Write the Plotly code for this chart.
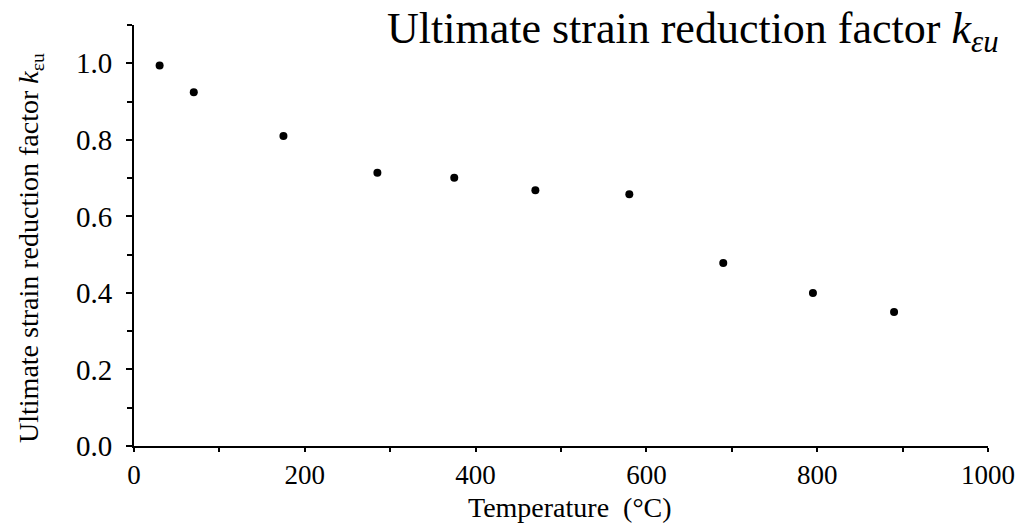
import plotly.graph_objects as go

temperature = [30, 70, 175, 285, 375, 470, 580, 690, 795, 890]
k_eps_u = [0.994, 0.924, 0.810, 0.714, 0.701, 0.668, 0.658, 0.478, 0.400, 0.350]

x_ticks = [0, 200, 400, 600, 800, 1000]
y_ticks = [0.0, 0.2, 0.4, 0.6, 0.8, 1.0]

font_family = "Liberation Serif, Times New Roman, serif"

fig = go.Figure()
fig.add_trace(go.Scatter(
    x=temperature, y=k_eps_u, mode="markers",
    marker=dict(color="black", size=8, symbol="circle"),
    showlegend=False,
))

fig.update_layout(
    width=1029, height=525,
    margin=dict(l=134, r=41, t=25, b=79),
    paper_bgcolor="white", plot_bgcolor="white",
    font=dict(family=font_family, color="black"),
    annotations=[
        dict(
            text="Ultimate strain reduction factor <i>k</i><sub><i>εu</i></sub>",
            xref="paper", yref="paper", x=1.015, y=1.055,
            xanchor="right", yanchor="top", showarrow=False,
            font=dict(family=font_family, size=44, color="black"),
        ),
        dict(
            text="Temperature  (°C)",
            xref="paper", yref="paper", x=0.51, y=-0.147,
            xanchor="center", yanchor="middle", showarrow=False,
            font=dict(family=font_family, size=28, color="black"),
        ),
        dict(
            text="Ultimate strain reduction factor <i>k</i><sub>εu</sub>",
            xref="paper", yref="paper", x=-0.122, y=0.47,
            xanchor="center", yanchor="middle", showarrow=False, textangle=-90,
            font=dict(family=font_family, size=28, color="black"),
        ),
    ],
)

fig.update_xaxes(
    range=[0, 1000], tickvals=x_ticks, ticktext=[str(v) for v in x_ticks],
    automargin=False,
    showgrid=False, zeroline=False, showline=True, linecolor="black", linewidth=2,
    ticks="outside", ticklen=4, tickwidth=2, tickcolor="black",
    minor=dict(dtick=100, ticks="outside", ticklen=4, tickwidth=2, tickcolor="black", showgrid=False),
    tickfont=dict(family=font_family, size=27, color="black"),
)

fig.update_yaxes(
    range=[0, 1.1], tickvals=y_ticks, ticktext=[f"{v:.1f}" for v in y_ticks],
    automargin=False,
    showgrid=False, zeroline=False, showline=True, linecolor="black", linewidth=2,
    ticks="outside", ticklen=6, tickwidth=2, tickcolor="black",
    minor=dict(dtick=0.1, ticks="outside", ticklen=5, tickwidth=2, tickcolor="black", showgrid=False),
    tickfont=dict(family=font_family, size=29, color="black"),
    ticklabelstandoff=8,
)

fig.write_html("out.html")
